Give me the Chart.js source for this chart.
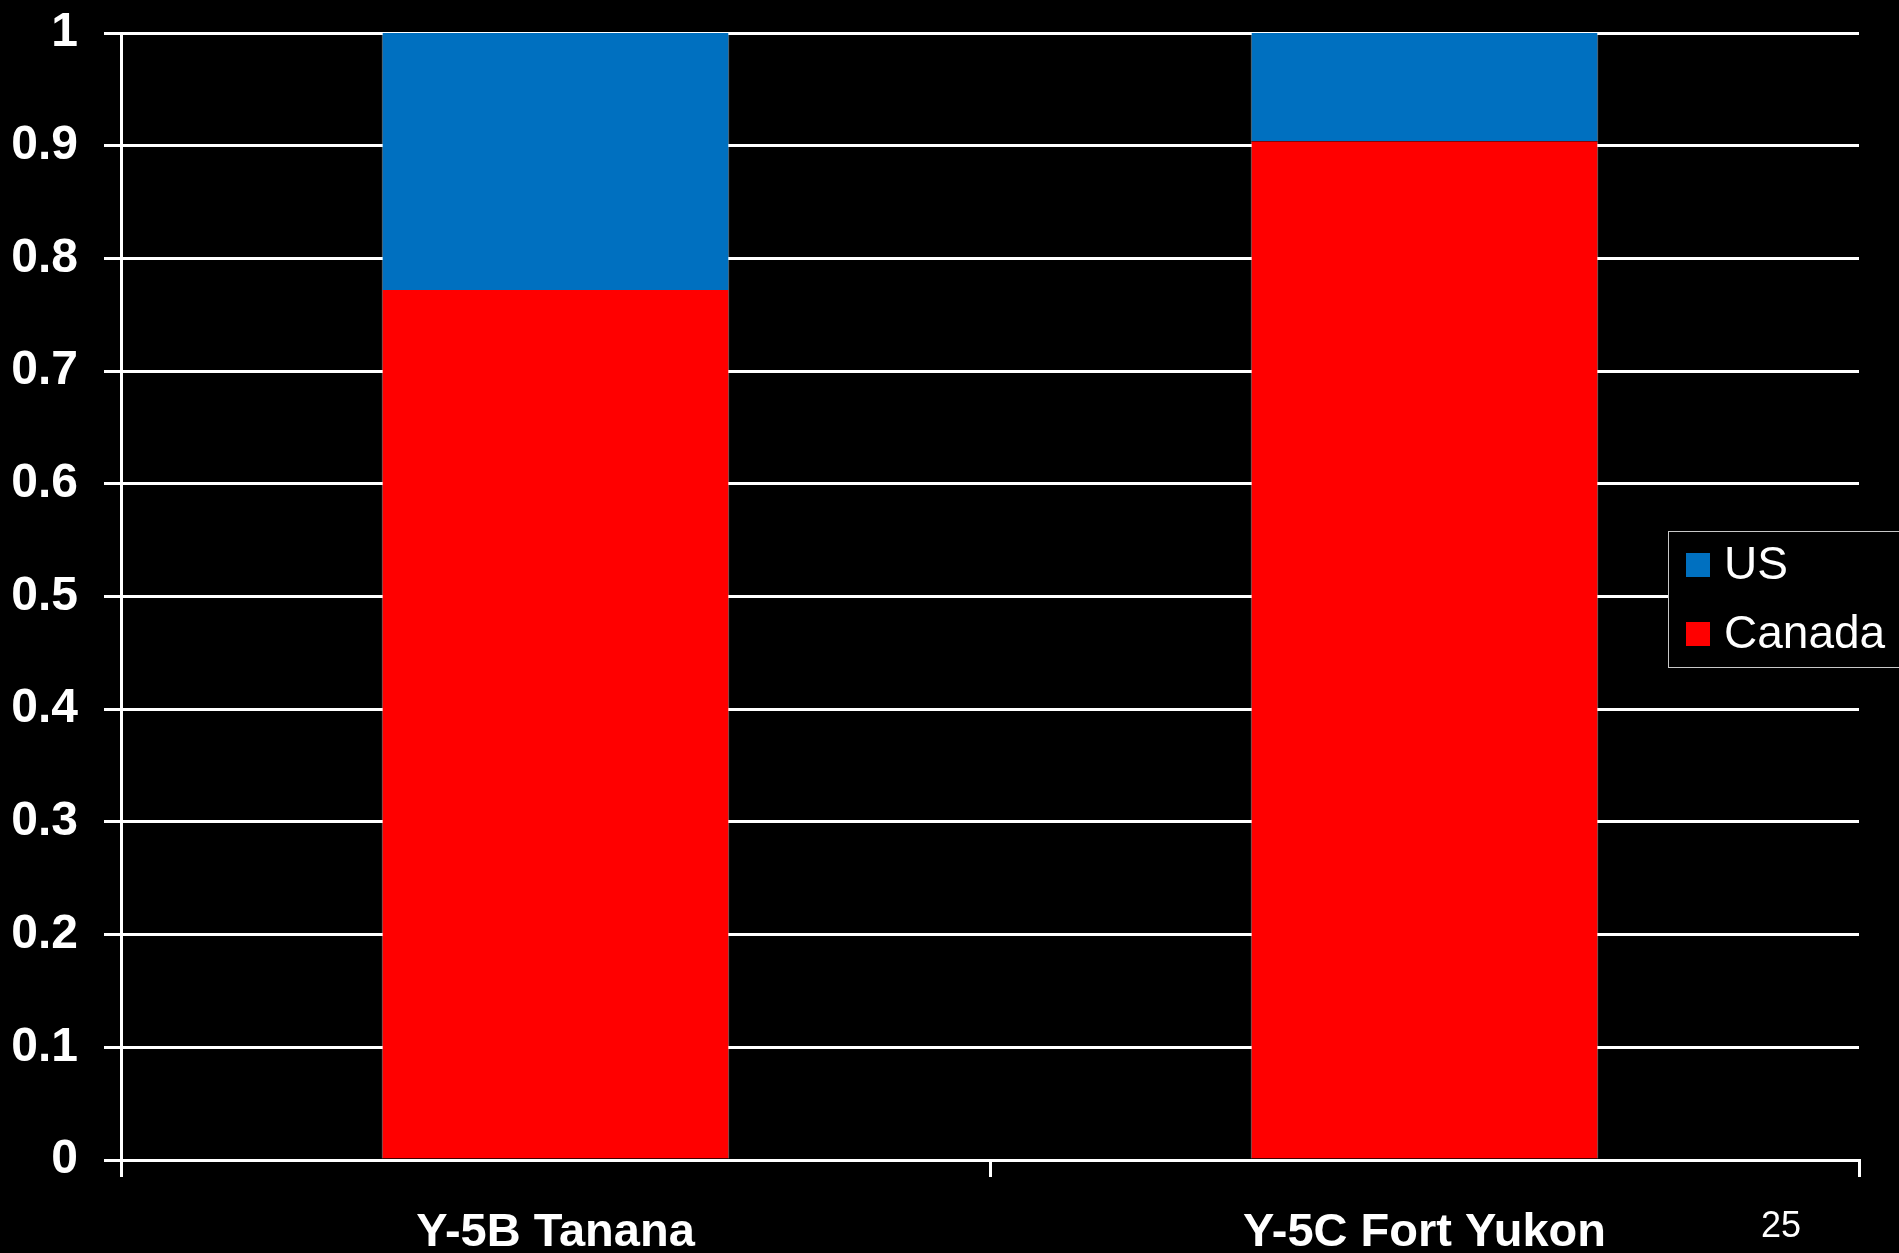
<!DOCTYPE html>
<html>
<head>
<meta charset="utf-8">
<script src="https://cdn.jsdelivr.net/npm/chart.js@4/dist/chart.umd.min.js"></script>
<style>
  html, body { margin: 0; padding: 0; background: #000; }
  #wrap { width: 1899px; height: 1253px; }
</style>
</head>
<body>
<div id="wrap"><canvas id="chart" width="1899" height="1253"></canvas></div>
<script>
// dados do grafico
const categories = ['Y-5B Tanana', 'Y-5C Fort Yukon'];
const canadaValues = [0.772, 0.904];
const usValues = [0.228, 0.096];
const yTickLabels = ['0', '0.1', '0.2', '0.3', '0.4', '0.5', '0.6', '0.7', '0.8', '0.9', '1'];
const pageNumber = '25';

// legenda desenhada por cima da area do grafico
const boxLegend = {
  id: 'boxLegend',
  afterDraw(chart) {
    const ctx = chart.ctx;
    const sets = chart.data.datasets.slice().reverse(); // US em cima
    ctx.save();
    ctx.fillStyle = '#000';
    ctx.fillRect(1668, 531, 240, 136);
    ctx.strokeStyle = '#c8c8c8';
    ctx.lineWidth = 1;
    ctx.strokeRect(1668.5, 531.5, 240, 136);
    ctx.font = '46px "Liberation Sans", Arial, sans-serif';
    ctx.textBaseline = 'middle';
    ctx.textAlign = 'left';
    sets.forEach((ds, i) => {
      const y = 565 + i * 69;
      ctx.fillStyle = ds.backgroundColor;
      ctx.fillRect(1686, y - 12, 24, 24);
      ctx.fillStyle = '#fff';
      ctx.fillText(ds.label, 1724, y + 1);
    });
    // numero da pagina
    ctx.font = '36px "Liberation Sans", Arial, sans-serif';
    ctx.textAlign = 'center';
    ctx.fillText(pageNumber, 1781, 1227);
    ctx.restore();
  }
};

new Chart(document.getElementById('chart'), {
  type: 'bar',
  data: {
    labels: categories,
    datasets: [
      {
        label: 'Canada',
        data: canadaValues,
        backgroundColor: '#ff0000',
        borderColor: 'rgba(255,255,255,0.55)',
        borderWidth: { left: 1, right: 1, top: 0, bottom: 0 },
        borderSkipped: false
      },
      {
        label: 'US',
        data: usValues,
        backgroundColor: '#0070c0',
        borderColor: 'rgba(255,255,255,0.55)',
        borderWidth: { left: 1, right: 1, top: 0, bottom: 0 },
        borderSkipped: false
      }
    ]
  },
  options: {
    responsive: false,
    animation: false,
    layout: { padding: { top: 33, right: 40, left: 0, bottom: 0 } },
    categoryPercentage: 1,
    barPercentage: 0.4,
    plugins: {
      legend: { display: false },
      tooltip: { enabled: false }
    },
    scales: {
      x: {
        stacked: true,
        afterFit(scale) { scale.height = 93; scale.paddingLeft = 0; scale.paddingRight = 0; },
        grid: {
          offset: true,
          drawOnChartArea: false,
          drawTicks: true,
          tickLength: 17,
          color: '#fff',
          lineWidth: 3
        },
        border: { display: true, color: '#fff', width: 3 },
        ticks: {
          color: '#fff',
          padding: 28,
          font: { family: '"Liberation Sans", Arial, sans-serif', size: 47, weight: 'bold' }
        }
      },
      y: {
        stacked: true,
        min: 0,
        max: 1,
        afterFit(scale) { scale.width = 121; scale.paddingTop = 0; scale.paddingBottom = 0; },
        grid: {
          color: '#fff',
          lineWidth: 3,
          tickLength: 17
        },
        border: { display: true, color: '#fff', width: 3 },
        ticks: {
          stepSize: 0.1,
          color: '#fff',
          padding: 26,
          font: { family: '"Liberation Sans", Arial, sans-serif', size: 48, weight: 'bold' },
          callback: (v, i) => yTickLabels[i]
        }
      }
    }
  },
  plugins: [boxLegend]
});
</script>
</body>
</html>
